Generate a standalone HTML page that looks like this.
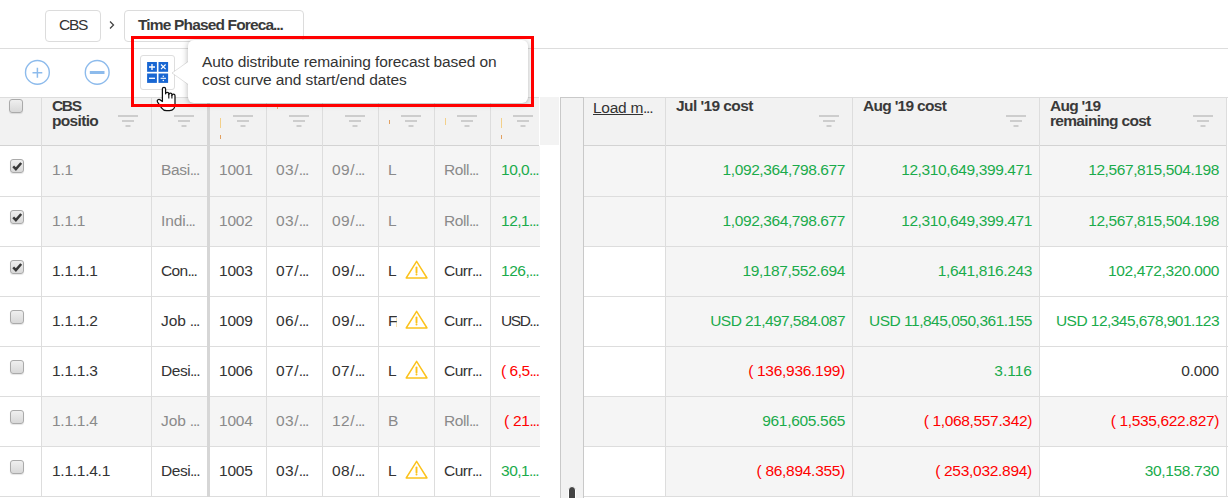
<!DOCTYPE html>
<html><head><meta charset="utf-8"><style>
html,body{margin:0;padding:0;}
body{width:1228px;height:498px;overflow:hidden;position:relative;background:#fff;font-family:"Liberation Sans", sans-serif;}
.t{position:absolute;white-space:pre;line-height:15px;}
</style></head><body>
<div style="position:absolute;left:45px;top:10px;width:54px;height:30px;border:1px solid #dcdcdc;border-radius:4px;"></div><div class="t" style="left:59px;top:17px;color:#333333;font-size:15.5px;font-weight:normal;letter-spacing:-1.286px;">CBS</div><svg style="position:absolute;left:107px;top:18px" width="10" height="14" viewBox="0 0 10 14"><path d="M3 3.5 L6.5 7 L3 10.5" fill="none" stroke="#444" stroke-width="1.3"/></svg><div style="position:absolute;left:124px;top:10px;width:178px;height:30px;border:1px solid #dcdcdc;border-radius:4px;"></div><div class="t" style="left:138px;top:17px;color:#3a3a3a;font-size:15.5px;font-weight:bold;letter-spacing:-0.839px;">Time Phased Foreca<span style="letter-spacing:-1.03px;margin-left:-0.34px">...</span></div><div style="position:absolute;left:0px;top:48px;width:1228px;height:1px;background:#dddddd;"></div><svg style="position:absolute;left:24px;top:59px" width="28" height="28" viewBox="0 0 28 28"><circle cx="13.4" cy="13.4" r="11.9" fill="none" stroke="#8dbbec" stroke-width="1.4"/><path d="M8.5 13.8 H18.3 M13.4 8.8 V18.7" stroke="#8dbbec" stroke-width="1.5"/></svg><svg style="position:absolute;left:84px;top:59px" width="28" height="28" viewBox="0 0 28 28"><circle cx="13.2" cy="13.4" r="11.9" fill="none" stroke="#8dbbec" stroke-width="1.4"/><path d="M5.8 13.5 H20.5" stroke="#8dbbec" stroke-width="3"/></svg><div style="position:absolute;left:0px;top:97px;width:539px;height:1px;background:#dddddd;"></div><div style="position:absolute;left:0px;top:98px;width:539px;height:47px;background:#f2f2f2;"></div><div style="position:absolute;left:0px;top:145px;width:539px;height:1px;background:#d3d3d3;"></div><div style="position:absolute;left:42px;top:146px;width:498px;height:50px;background:#f5f5f5;"></div><div style="position:absolute;left:0px;top:196px;width:540px;height:1px;background:#dddddd;"></div><div style="position:absolute;left:42px;top:197px;width:498px;height:49px;background:#f5f5f5;"></div><div style="position:absolute;left:0px;top:246px;width:540px;height:1px;background:#dddddd;"></div><div style="position:absolute;left:0px;top:296px;width:540px;height:1px;background:#dddddd;"></div><div style="position:absolute;left:0px;top:346px;width:540px;height:1px;background:#dddddd;"></div><div style="position:absolute;left:0px;top:396px;width:540px;height:1px;background:#dddddd;"></div><div style="position:absolute;left:42px;top:397px;width:498px;height:49px;background:#f5f5f5;"></div><div style="position:absolute;left:0px;top:446px;width:540px;height:1px;background:#dddddd;"></div><div style="position:absolute;left:0px;top:496px;width:540px;height:1px;background:#dddddd;"></div><div style="position:absolute;left:41px;top:97px;width:1px;height:400px;background:#dddddd;"></div><div style="position:absolute;left:151px;top:97px;width:1px;height:400px;background:#dddddd;"></div><div style="position:absolute;left:207px;top:97px;width:3px;height:400px;background:#d6d6d6;"></div><div style="position:absolute;left:266px;top:97px;width:1px;height:400px;background:#dddddd;"></div><div style="position:absolute;left:322px;top:97px;width:1px;height:400px;background:#dddddd;"></div><div style="position:absolute;left:378px;top:97px;width:1px;height:400px;background:#dddddd;"></div><div style="position:absolute;left:434px;top:97px;width:1px;height:400px;background:#dddddd;"></div><div style="position:absolute;left:490px;top:97px;width:1px;height:400px;background:#dddddd;"></div><div style="position:absolute;left:9px;top:99px;width:12px;height:12px;border:1px solid #aaaaaa;border-radius:3px;background:linear-gradient(#efefef,#d8d8d8);box-shadow:0 1px 1px rgba(0,0,0,0.10)"></div><div class="t" style="left:52px;top:98px;color:#3a3a3a;font-size:15.5px;font-weight:bold;letter-spacing:-1.370px;">CBS</div><div class="t" style="left:52px;top:113px;color:#3a3a3a;font-size:15.5px;font-weight:bold;letter-spacing:-0.674px;">positio</div><svg style="position:absolute;left:118px;top:115px" width="20" height="12" viewBox="0 0 20 12"><rect x="0" y="0" width="20" height="2" fill="#cdcdcd"/><rect x="4" y="5" width="12" height="2" fill="#cdcdcd"/><rect x="7.5" y="10" width="5" height="2" fill="#cdcdcd"/></svg><svg style="position:absolute;left:174px;top:115px" width="20" height="12" viewBox="0 0 20 12"><rect x="0" y="0" width="20" height="2" fill="#cdcdcd"/><rect x="4" y="5" width="12" height="2" fill="#cdcdcd"/><rect x="7.5" y="10" width="5" height="2" fill="#cdcdcd"/></svg><svg style="position:absolute;left:233px;top:115px" width="20" height="12" viewBox="0 0 20 12"><rect x="0" y="0" width="20" height="2" fill="#cdcdcd"/><rect x="4" y="5" width="12" height="2" fill="#cdcdcd"/><rect x="7.5" y="10" width="5" height="2" fill="#cdcdcd"/></svg><svg style="position:absolute;left:289px;top:115px" width="20" height="12" viewBox="0 0 20 12"><rect x="0" y="0" width="20" height="2" fill="#cdcdcd"/><rect x="4" y="5" width="12" height="2" fill="#cdcdcd"/><rect x="7.5" y="10" width="5" height="2" fill="#cdcdcd"/></svg><svg style="position:absolute;left:345px;top:115px" width="20" height="12" viewBox="0 0 20 12"><rect x="0" y="0" width="20" height="2" fill="#cdcdcd"/><rect x="4" y="5" width="12" height="2" fill="#cdcdcd"/><rect x="7.5" y="10" width="5" height="2" fill="#cdcdcd"/></svg><svg style="position:absolute;left:401px;top:115px" width="20" height="12" viewBox="0 0 20 12"><rect x="0" y="0" width="20" height="2" fill="#cdcdcd"/><rect x="4" y="5" width="12" height="2" fill="#cdcdcd"/><rect x="7.5" y="10" width="5" height="2" fill="#cdcdcd"/></svg><svg style="position:absolute;left:457px;top:115px" width="20" height="12" viewBox="0 0 20 12"><rect x="0" y="0" width="20" height="2" fill="#cdcdcd"/><rect x="4" y="5" width="12" height="2" fill="#cdcdcd"/><rect x="7.5" y="10" width="5" height="2" fill="#cdcdcd"/></svg><svg style="position:absolute;left:513px;top:115px" width="20" height="12" viewBox="0 0 20 12"><rect x="0" y="0" width="20" height="2" fill="#cdcdcd"/><rect x="4" y="5" width="12" height="2" fill="#cdcdcd"/><rect x="7.5" y="10" width="5" height="2" fill="#cdcdcd"/></svg><div style="position:absolute;left:220px;top:118px;width:1px;height:10px;background:#f3d08a;"></div><div style="position:absolute;left:220px;top:135px;width:1px;height:4px;background:#e2a060;"></div><div style="position:absolute;left:501px;top:118px;width:1px;height:10px;background:#f3d08a;"></div><div style="position:absolute;left:501px;top:135px;width:1px;height:4px;background:#e2a060;"></div><div style="position:absolute;left:445px;top:118px;width:1px;height:7px;background:#f3d08a;"></div><div style="position:absolute;left:389px;top:120px;width:1px;height:4px;background:#e2a060;"></div><div style="position:absolute;left:277px;top:107px;width:1px;height:2px;background:#e8b070;"></div><div style="position:absolute;left:396px;top:318px;width:1px;height:9px;background:#f8e0b0;"></div><div style="position:absolute;left:10px;top:159px;width:12px;height:12px;border:1px solid #aaaaaa;border-radius:3px;background:linear-gradient(#efefef,#d8d8d8);box-shadow:0 1px 1px rgba(0,0,0,0.10)"><svg style="position:absolute;left:0;top:0" width="12" height="12" viewBox="0 0 12 12"><path d="M2.2 6.4 L4.9 9.1 L10.2 3" fill="none" stroke="#383838" stroke-width="2.5" stroke-linejoin="miter"/></svg></div><div class="t" style="left:52px;top:162px;color:#8a8a8a;font-size:15.5px;font-weight:normal;letter-spacing:-0.245px;">1.1</div><div class="t" style="left:161px;top:162px;color:#8a8a8a;font-size:15.5px;font-weight:normal;letter-spacing:-0.312px;">Basi<span style="letter-spacing:-1.19px;margin-left:-0.23px">...</span></div><div class="t" style="left:219px;top:162px;color:#8a8a8a;font-size:15.5px;font-weight:normal;letter-spacing:-0.188px;">1001</div><div class="t" style="left:276px;top:162px;color:#8a8a8a;font-size:15.5px;font-weight:normal;letter-spacing:0.500px;">03/<span style="letter-spacing:-1.19px;margin-left:-0.23px">...</span></div><div class="t" style="left:332px;top:162px;color:#8a8a8a;font-size:15.5px;font-weight:normal;letter-spacing:0.500px;">09/<span style="letter-spacing:-1.19px;margin-left:-0.23px">...</span></div><div class="t" style="left:388px;top:162px;color:#8a8a8a;font-size:15.5px;font-weight:normal;letter-spacing:-0.531px;">L</div><div class="t" style="left:444px;top:162px;color:#8a8a8a;font-size:15.5px;font-weight:normal;letter-spacing:-0.402px;">Roll<span style="letter-spacing:-1.19px;margin-left:-0.23px">...</span></div><div class="t" style="left:501px;top:162px;color:#1aab4b;font-size:15.5px;font-weight:normal;letter-spacing:-0.480px;">10,0<span style="letter-spacing:-1.19px;margin-left:-0.23px">...</span></div><div style="position:absolute;left:10px;top:210px;width:12px;height:12px;border:1px solid #aaaaaa;border-radius:3px;background:linear-gradient(#efefef,#d8d8d8);box-shadow:0 1px 1px rgba(0,0,0,0.10)"><svg style="position:absolute;left:0;top:0" width="12" height="12" viewBox="0 0 12 12"><path d="M2.2 6.4 L4.9 9.1 L10.2 3" fill="none" stroke="#383838" stroke-width="2.5" stroke-linejoin="miter"/></svg></div><div class="t" style="left:52px;top:213px;color:#8a8a8a;font-size:15.5px;font-weight:normal;letter-spacing:-0.256px;">1.1.1</div><div class="t" style="left:161px;top:213px;color:#8a8a8a;font-size:15.5px;font-weight:normal;letter-spacing:-0.129px;">Indi<span style="letter-spacing:-1.19px;margin-left:-0.23px">...</span></div><div class="t" style="left:219px;top:213px;color:#8a8a8a;font-size:15.5px;font-weight:normal;letter-spacing:-0.188px;">1002</div><div class="t" style="left:276px;top:213px;color:#8a8a8a;font-size:15.5px;font-weight:normal;letter-spacing:0.500px;">03/<span style="letter-spacing:-1.19px;margin-left:-0.23px">...</span></div><div class="t" style="left:332px;top:213px;color:#8a8a8a;font-size:15.5px;font-weight:normal;letter-spacing:0.500px;">09/<span style="letter-spacing:-1.19px;margin-left:-0.23px">...</span></div><div class="t" style="left:388px;top:213px;color:#8a8a8a;font-size:15.5px;font-weight:normal;letter-spacing:-0.531px;">L</div><div class="t" style="left:444px;top:213px;color:#8a8a8a;font-size:15.5px;font-weight:normal;letter-spacing:-0.402px;">Roll<span style="letter-spacing:-1.19px;margin-left:-0.23px">...</span></div><div class="t" style="left:501px;top:213px;color:#1aab4b;font-size:15.5px;font-weight:normal;letter-spacing:-0.480px;">12,1<span style="letter-spacing:-1.19px;margin-left:-0.23px">...</span></div><div style="position:absolute;left:10px;top:260px;width:12px;height:12px;border:1px solid #aaaaaa;border-radius:3px;background:linear-gradient(#efefef,#d8d8d8);box-shadow:0 1px 1px rgba(0,0,0,0.10)"><svg style="position:absolute;left:0;top:0" width="12" height="12" viewBox="0 0 12 12"><path d="M2.2 6.4 L4.9 9.1 L10.2 3" fill="none" stroke="#383838" stroke-width="2.5" stroke-linejoin="miter"/></svg></div><div class="t" style="left:52px;top:263px;color:#333333;font-size:15.5px;font-weight:normal;letter-spacing:-0.259px;">1.1.1.1</div><div class="t" style="left:161px;top:263px;color:#333333;font-size:15.5px;font-weight:normal;letter-spacing:-0.609px;">Con<span style="letter-spacing:-1.19px;margin-left:-0.23px">...</span></div><div class="t" style="left:219px;top:263px;color:#333333;font-size:15.5px;font-weight:normal;letter-spacing:-0.188px;">1003</div><div class="t" style="left:276px;top:263px;color:#333333;font-size:15.5px;font-weight:normal;letter-spacing:0.500px;">07/<span style="letter-spacing:-1.19px;margin-left:-0.23px">...</span></div><div class="t" style="left:332px;top:263px;color:#333333;font-size:15.5px;font-weight:normal;letter-spacing:0.500px;">09/<span style="letter-spacing:-1.19px;margin-left:-0.23px">...</span></div><div class="t" style="left:388px;top:263px;color:#333333;font-size:15.5px;font-weight:normal;letter-spacing:-0.531px;">L</div><div style="position:absolute;left:397px;top:259px;width:8px;height:22px;background:#ffffff;"></div><svg style="position:absolute;left:405px;top:260px" width="23" height="20" viewBox="0 0 23 20"><path d="M11.6 1.3 L22 18 H1.2 Z" fill="none" stroke="#fcc21b" stroke-width="1.45" stroke-linejoin="round"/><path d="M11.5 7.4 V12.6" stroke="#fcc21b" stroke-width="1.9" stroke-linecap="round"/><circle cx="11.5" cy="14.6" r="1" fill="#fcc21b"/></svg><div class="t" style="left:444px;top:263px;color:#333333;font-size:15.5px;font-weight:normal;letter-spacing:-0.484px;">Curr<span style="letter-spacing:-1.19px;margin-left:-0.23px">...</span></div><div class="t" style="left:501px;top:263px;color:#1aab4b;font-size:15.5px;font-weight:normal;letter-spacing:-0.480px;">126,<span style="letter-spacing:-1.19px;margin-left:-0.23px">...</span></div><div style="position:absolute;left:10px;top:310px;width:12px;height:12px;border:1px solid #aaaaaa;border-radius:3px;background:linear-gradient(#efefef,#d8d8d8);box-shadow:0 1px 1px rgba(0,0,0,0.10)"></div><div class="t" style="left:52px;top:313px;color:#333333;font-size:15.5px;font-weight:normal;letter-spacing:-0.259px;">1.1.1.2</div><div class="t" style="left:161px;top:313px;color:#333333;font-size:15.5px;font-weight:normal;letter-spacing:-0.082px;">Job <span style="letter-spacing:-1.19px;margin-left:-0.23px">...</span></div><div class="t" style="left:219px;top:313px;color:#333333;font-size:15.5px;font-weight:normal;letter-spacing:-0.188px;">1009</div><div class="t" style="left:276px;top:313px;color:#333333;font-size:15.5px;font-weight:normal;letter-spacing:0.500px;">06/<span style="letter-spacing:-1.19px;margin-left:-0.23px">...</span></div><div class="t" style="left:332px;top:313px;color:#333333;font-size:15.5px;font-weight:normal;letter-spacing:0.500px;">09/<span style="letter-spacing:-1.19px;margin-left:-0.23px">...</span></div><div class="t" style="left:388px;top:313px;color:#333333;font-size:15.5px;font-weight:normal;letter-spacing:-1.172px;">F</div><div style="position:absolute;left:397px;top:309px;width:8px;height:22px;background:#ffffff;"></div><svg style="position:absolute;left:405px;top:310px" width="23" height="20" viewBox="0 0 23 20"><path d="M11.6 1.3 L22 18 H1.2 Z" fill="none" stroke="#fcc21b" stroke-width="1.45" stroke-linejoin="round"/><path d="M11.5 7.4 V12.6" stroke="#fcc21b" stroke-width="1.9" stroke-linecap="round"/><circle cx="11.5" cy="14.6" r="1" fill="#fcc21b"/></svg><div class="t" style="left:444px;top:313px;color:#333333;font-size:15.5px;font-weight:normal;letter-spacing:-0.484px;">Curr<span style="letter-spacing:-1.19px;margin-left:-0.23px">...</span></div><div class="t" style="left:501px;top:313px;color:#333333;font-size:15.5px;font-weight:normal;letter-spacing:-1.417px;">USD<span style="letter-spacing:-1.19px;margin-left:-0.23px">...</span></div><div style="position:absolute;left:10px;top:360px;width:12px;height:12px;border:1px solid #aaaaaa;border-radius:3px;background:linear-gradient(#efefef,#d8d8d8);box-shadow:0 1px 1px rgba(0,0,0,0.10)"></div><div class="t" style="left:52px;top:363px;color:#333333;font-size:15.5px;font-weight:normal;letter-spacing:-0.259px;">1.1.1.3</div><div class="t" style="left:161px;top:363px;color:#333333;font-size:15.5px;font-weight:normal;letter-spacing:-0.457px;">Desi<span style="letter-spacing:-1.19px;margin-left:-0.23px">...</span></div><div class="t" style="left:219px;top:363px;color:#333333;font-size:15.5px;font-weight:normal;letter-spacing:-0.188px;">1006</div><div class="t" style="left:276px;top:363px;color:#333333;font-size:15.5px;font-weight:normal;letter-spacing:0.500px;">07/<span style="letter-spacing:-1.19px;margin-left:-0.23px">...</span></div><div class="t" style="left:332px;top:363px;color:#333333;font-size:15.5px;font-weight:normal;letter-spacing:0.500px;">07/<span style="letter-spacing:-1.19px;margin-left:-0.23px">...</span></div><div class="t" style="left:388px;top:363px;color:#333333;font-size:15.5px;font-weight:normal;letter-spacing:-0.531px;">L</div><div style="position:absolute;left:397px;top:359px;width:8px;height:22px;background:#ffffff;"></div><svg style="position:absolute;left:405px;top:360px" width="23" height="20" viewBox="0 0 23 20"><path d="M11.6 1.3 L22 18 H1.2 Z" fill="none" stroke="#fcc21b" stroke-width="1.45" stroke-linejoin="round"/><path d="M11.5 7.4 V12.6" stroke="#fcc21b" stroke-width="1.9" stroke-linecap="round"/><circle cx="11.5" cy="14.6" r="1" fill="#fcc21b"/></svg><div class="t" style="left:444px;top:363px;color:#333333;font-size:15.5px;font-weight:normal;letter-spacing:-0.484px;">Curr<span style="letter-spacing:-1.19px;margin-left:-0.23px">...</span></div><div class="t" style="left:501px;top:363px;color:#ff0000;font-size:15.5px;font-weight:normal;letter-spacing:-0.469px;">( 6,5<span style="letter-spacing:-1.19px;margin-left:-0.23px">...</span></div><div style="position:absolute;left:10px;top:410px;width:12px;height:12px;border:1px solid #aaaaaa;border-radius:3px;background:linear-gradient(#efefef,#d8d8d8);box-shadow:0 1px 1px rgba(0,0,0,0.10)"></div><div class="t" style="left:52px;top:413px;color:#8a8a8a;font-size:15.5px;font-weight:normal;letter-spacing:-0.259px;">1.1.1.4</div><div class="t" style="left:161px;top:413px;color:#8a8a8a;font-size:15.5px;font-weight:normal;letter-spacing:-0.082px;">Job <span style="letter-spacing:-1.19px;margin-left:-0.23px">...</span></div><div class="t" style="left:219px;top:413px;color:#8a8a8a;font-size:15.5px;font-weight:normal;letter-spacing:-0.188px;">1004</div><div class="t" style="left:276px;top:413px;color:#8a8a8a;font-size:15.5px;font-weight:normal;letter-spacing:0.500px;">03/<span style="letter-spacing:-1.19px;margin-left:-0.23px">...</span></div><div class="t" style="left:332px;top:413px;color:#8a8a8a;font-size:15.5px;font-weight:normal;letter-spacing:0.500px;">12/<span style="letter-spacing:-1.19px;margin-left:-0.23px">...</span></div><div class="t" style="left:388px;top:413px;color:#8a8a8a;font-size:15.5px;font-weight:normal;letter-spacing:-0.984px;">B</div><div class="t" style="left:444px;top:413px;color:#8a8a8a;font-size:15.5px;font-weight:normal;letter-spacing:-0.402px;">Roll<span style="letter-spacing:-1.19px;margin-left:-0.23px">...</span></div><div class="t" style="left:504px;top:413px;color:#ff0000;font-size:15.5px;font-weight:normal;letter-spacing:-0.250px;">( 21<span style="letter-spacing:-1.19px;margin-left:-0.23px">...</span></div><div style="position:absolute;left:10px;top:460px;width:12px;height:12px;border:1px solid #aaaaaa;border-radius:3px;background:linear-gradient(#efefef,#d8d8d8);box-shadow:0 1px 1px rgba(0,0,0,0.10)"></div><div class="t" style="left:52px;top:463px;color:#333333;font-size:15.5px;font-weight:normal;letter-spacing:-0.260px;">1.1.1.4.1</div><div class="t" style="left:161px;top:463px;color:#333333;font-size:15.5px;font-weight:normal;letter-spacing:-0.457px;">Desi<span style="letter-spacing:-1.19px;margin-left:-0.23px">...</span></div><div class="t" style="left:219px;top:463px;color:#333333;font-size:15.5px;font-weight:normal;letter-spacing:-0.188px;">1005</div><div class="t" style="left:276px;top:463px;color:#333333;font-size:15.5px;font-weight:normal;letter-spacing:0.500px;">03/<span style="letter-spacing:-1.19px;margin-left:-0.23px">...</span></div><div class="t" style="left:332px;top:463px;color:#333333;font-size:15.5px;font-weight:normal;letter-spacing:0.500px;">08/<span style="letter-spacing:-1.19px;margin-left:-0.23px">...</span></div><div class="t" style="left:388px;top:463px;color:#333333;font-size:15.5px;font-weight:normal;letter-spacing:-0.531px;">L</div><div style="position:absolute;left:397px;top:459px;width:8px;height:22px;background:#ffffff;"></div><svg style="position:absolute;left:405px;top:460px" width="23" height="20" viewBox="0 0 23 20"><path d="M11.6 1.3 L22 18 H1.2 Z" fill="none" stroke="#fcc21b" stroke-width="1.45" stroke-linejoin="round"/><path d="M11.5 7.4 V12.6" stroke="#fcc21b" stroke-width="1.9" stroke-linecap="round"/><circle cx="11.5" cy="14.6" r="1" fill="#fcc21b"/></svg><div class="t" style="left:444px;top:463px;color:#333333;font-size:15.5px;font-weight:normal;letter-spacing:-0.484px;">Curr<span style="letter-spacing:-1.19px;margin-left:-0.23px">...</span></div><div class="t" style="left:501px;top:463px;color:#1aab4b;font-size:15.5px;font-weight:normal;letter-spacing:-0.480px;">30,1<span style="letter-spacing:-1.19px;margin-left:-0.23px">...</span></div><div style="position:absolute;left:540px;top:97px;width:20px;height:401px;background:#ffffff;"></div><div style="position:absolute;left:539px;top:97px;width:1px;height:49px;background:#ffffff;"></div><div style="position:absolute;left:540px;top:97px;width:19px;height:48px;background:#f3f3f3;"></div><div style="position:absolute;left:560px;top:97px;width:1px;height:401px;background:#c9c9c9;"></div><div style="position:absolute;left:561px;top:97px;width:22px;height:401px;background:#f2f2f2;"></div><div style="position:absolute;left:583px;top:97px;width:1px;height:401px;background:#c9c9c9;"></div><div style="position:absolute;left:560px;top:97px;width:24px;height:1px;background:#c9c9c9;"></div><div style="position:absolute;left:568px;top:486px;width:8px;height:20px;border-radius:4px;background:#444;border:1px solid #fff;box-sizing:border-box"></div><div style="position:absolute;left:584px;top:97px;width:644px;height:1px;background:#dddddd;"></div><div style="position:absolute;left:584px;top:98px;width:643px;height:47px;background:#f2f2f2;"></div><div style="position:absolute;left:584px;top:145px;width:643px;height:1px;background:#d3d3d3;"></div><div style="position:absolute;left:584px;top:146px;width:642px;height:50px;background:#f5f5f5;"></div><div style="position:absolute;left:584px;top:196px;width:644px;height:1px;background:#dddddd;"></div><div style="position:absolute;left:584px;top:197px;width:642px;height:49px;background:#f5f5f5;"></div><div style="position:absolute;left:584px;top:246px;width:644px;height:1px;background:#dddddd;"></div><div style="position:absolute;left:666px;top:247px;width:373px;height:49px;background:#f5f5f5;"></div><div style="position:absolute;left:584px;top:296px;width:644px;height:1px;background:#dddddd;"></div><div style="position:absolute;left:666px;top:297px;width:373px;height:49px;background:#f5f5f5;"></div><div style="position:absolute;left:584px;top:346px;width:644px;height:1px;background:#dddddd;"></div><div style="position:absolute;left:666px;top:347px;width:373px;height:49px;background:#f5f5f5;"></div><div style="position:absolute;left:584px;top:396px;width:644px;height:1px;background:#dddddd;"></div><div style="position:absolute;left:584px;top:397px;width:642px;height:49px;background:#f5f5f5;"></div><div style="position:absolute;left:584px;top:446px;width:644px;height:1px;background:#dddddd;"></div><div style="position:absolute;left:666px;top:447px;width:373px;height:49px;background:#f5f5f5;"></div><div style="position:absolute;left:584px;top:496px;width:644px;height:1px;background:#dddddd;"></div><div style="position:absolute;left:665px;top:97px;width:1px;height:400px;background:#dddddd;"></div><div style="position:absolute;left:852px;top:97px;width:1px;height:400px;background:#dddddd;"></div><div style="position:absolute;left:1039px;top:97px;width:1px;height:400px;background:#dddddd;"></div><div style="position:absolute;left:1226px;top:97px;width:1px;height:400px;background:#dddddd;"></div><div class="t" style="left:593px;top:100px;color:#333333;font-size:15.5px;font-weight:normal;letter-spacing:-0.260px;"><span style="text-decoration:underline">Load m</span><span style="letter-spacing:-1.19px;margin-left:-0.23px">...</span></div><div class="t" style="left:676px;top:98px;color:#3a3a3a;font-size:15.5px;font-weight:bold;letter-spacing:-0.576px;">Jul '19 cost</div><div class="t" style="left:863px;top:98px;color:#3a3a3a;font-size:15.5px;font-weight:bold;letter-spacing:-0.702px;">Aug '19 cost</div><div class="t" style="left:1050px;top:98px;color:#3a3a3a;font-size:15.5px;font-weight:bold;letter-spacing:-0.721px;">Aug '19</div><div class="t" style="left:1050px;top:113px;color:#3a3a3a;font-size:15.5px;font-weight:bold;letter-spacing:-0.690px;">remaining cost</div><svg style="position:absolute;left:819px;top:115px" width="20" height="12" viewBox="0 0 20 12"><rect x="0" y="0" width="20" height="2" fill="#cdcdcd"/><rect x="4" y="5" width="12" height="2" fill="#cdcdcd"/><rect x="7.5" y="10" width="5" height="2" fill="#cdcdcd"/></svg><svg style="position:absolute;left:1006px;top:115px" width="20" height="12" viewBox="0 0 20 12"><rect x="0" y="0" width="20" height="2" fill="#cdcdcd"/><rect x="4" y="5" width="12" height="2" fill="#cdcdcd"/><rect x="7.5" y="10" width="5" height="2" fill="#cdcdcd"/></svg><svg style="position:absolute;left:1193px;top:115px" width="20" height="12" viewBox="0 0 20 12"><rect x="0" y="0" width="20" height="2" fill="#cdcdcd"/><rect x="4" y="5" width="12" height="2" fill="#cdcdcd"/><rect x="7.5" y="10" width="5" height="2" fill="#cdcdcd"/></svg><div class="t" style="right:383px;text-align:right;top:162px;color:#1aab4b;font-size:15.5px;font-weight:normal;letter-spacing:-0.405px;">1,092,364,798.677</div><div class="t" style="right:196px;text-align:right;top:162px;color:#1aab4b;font-size:15.5px;font-weight:normal;letter-spacing:-0.393px;">12,310,649,399.471</div><div class="t" style="right:9px;text-align:right;top:162px;color:#1aab4b;font-size:15.5px;font-weight:normal;letter-spacing:-0.393px;">12,567,815,504.198</div><div class="t" style="right:383px;text-align:right;top:213px;color:#1aab4b;font-size:15.5px;font-weight:normal;letter-spacing:-0.405px;">1,092,364,798.677</div><div class="t" style="right:196px;text-align:right;top:213px;color:#1aab4b;font-size:15.5px;font-weight:normal;letter-spacing:-0.393px;">12,310,649,399.471</div><div class="t" style="right:9px;text-align:right;top:213px;color:#1aab4b;font-size:15.5px;font-weight:normal;letter-spacing:-0.393px;">12,567,815,504.198</div><div class="t" style="right:383px;text-align:right;top:263px;color:#1aab4b;font-size:15.5px;font-weight:normal;letter-spacing:-0.368px;">19,187,552.694</div><div class="t" style="right:196px;text-align:right;top:263px;color:#1aab4b;font-size:15.5px;font-weight:normal;letter-spacing:-0.381px;">1,641,816.243</div><div class="t" style="right:9px;text-align:right;top:263px;color:#1aab4b;font-size:15.5px;font-weight:normal;letter-spacing:-0.356px;">102,472,320.000</div><div class="t" style="right:383px;text-align:right;top:313px;color:#1aab4b;font-size:15.5px;font-weight:normal;letter-spacing:-0.555px;">USD 21,497,584.087</div><div class="t" style="right:196px;text-align:right;top:313px;color:#1aab4b;font-size:15.5px;font-weight:normal;letter-spacing:-0.489px;">USD 11,845,050,361.155</div><div class="t" style="right:9px;text-align:right;top:313px;color:#1aab4b;font-size:15.5px;font-weight:normal;letter-spacing:-0.542px;">USD 12,345,678,901.123</div><div class="t" style="right:383px;text-align:right;top:363px;color:#ff0000;font-size:15.5px;font-weight:normal;letter-spacing:-0.283px;">( 136,936.199)</div><div class="t" style="right:196px;text-align:right;top:363px;color:#1aab4b;font-size:15.5px;font-weight:normal;letter-spacing:0.009px;">3.116</div><div class="t" style="right:9px;text-align:right;top:363px;color:#333333;font-size:15.5px;font-weight:normal;letter-spacing:-0.222px;">0.000</div><div class="t" style="right:383px;text-align:right;top:413px;color:#1aab4b;font-size:15.5px;font-weight:normal;letter-spacing:-0.311px;">961,605.565</div><div class="t" style="right:196px;text-align:right;top:413px;color:#ff0000;font-size:15.5px;font-weight:normal;letter-spacing:-0.345px;">( 1,068,557.342)</div><div class="t" style="right:9px;text-align:right;top:413px;color:#ff0000;font-size:15.5px;font-weight:normal;letter-spacing:-0.345px;">( 1,535,622.827)</div><div class="t" style="right:383px;text-align:right;top:463px;color:#ff0000;font-size:15.5px;font-weight:normal;letter-spacing:-0.291px;">( 86,894.355)</div><div class="t" style="right:196px;text-align:right;top:463px;color:#ff0000;font-size:15.5px;font-weight:normal;letter-spacing:-0.283px;">( 253,032.894)</div><div class="t" style="right:9px;text-align:right;top:463px;color:#1aab4b;font-size:15.5px;font-weight:normal;letter-spacing:-0.322px;">30,158.730</div><div style="position:absolute;left:140px;top:55px;width:33px;height:33px;border:1px solid #dedede;border-radius:3px;background:#fff"></div><svg style="position:absolute;left:147px;top:62px" width="22" height="22" viewBox="0 0 22 22"><rect x="0.1" y="0" width="9.8" height="9.8" fill="#1866d2"/><rect x="11.5" y="0" width="9.6" height="9.8" fill="#1866d2"/><rect x="0.1" y="11.5" width="9.8" height="9.4" fill="#1866d2"/><rect x="11.5" y="11.5" width="9.6" height="9.4" fill="#1866d2"/><path d="M2 5 H8 M5 2 V8" stroke="#fff" stroke-width="1.3"/><path d="M14 2.5 L18.6 7.1 M18.6 2.5 L14 7.1" stroke="#fff" stroke-width="1.2"/><path d="M2 16.3 H8" stroke="#fff" stroke-width="1.3"/><path d="M13.6 16.3 H19" stroke="#fff" stroke-width="1.1"/><circle cx="16.3" cy="14.2" r="0.75" fill="#fff"/><circle cx="16.3" cy="18.5" r="0.75" fill="#fff"/></svg><div style="position:absolute;left:188px;top:40px;width:340px;height:63px;background:#fff;border-radius:6px;box-shadow:0 1px 6px rgba(0,0,0,0.3)"></div><svg style="position:absolute;left:168px;top:56px" width="24" height="34" viewBox="0 0 24 34"><path d="M21 5 L4 17 L21 29 Z" fill="#fff" stroke="rgba(0,0,0,0.12)" stroke-width="1"/><rect x="20" y="2" width="4" height="30" fill="#fff"/></svg><div class="t" style="left:202px;top:54px;color:#333;font-size:15.5px;font-weight:normal;letter-spacing:-0.104px;">Auto distribute remaining forecast based on</div><div class="t" style="left:202px;top:72px;color:#333;font-size:15.5px;font-weight:normal;letter-spacing:-0.103px;">cost curve and start/end dates</div><svg style="position:absolute;left:150px;top:80px" width="35" height="35" viewBox="0 0 35 35"><path d="M12.4 21.5 V8.9 A1.6 1.6 0 0 1 15.6 8.9 V13.8 Q15.6 12.3 17.2 12.3 Q18.8 12.3 18.8 13.8 V14.6 Q18.8 13.2 20.35 13.2 Q21.9 13.2 21.9 14.6 V15.6 Q21.9 14.2 23.45 14.2 Q25 14.2 25 15.8 V24 Q25 30.6 19.5 30.6 H16.5 Q13.5 30.6 11.5 27.8 L7.6 22.2 Q6.6 20.6 7.9 19.7 Q9.3 18.9 10.6 20.2 Z" fill="#fff" stroke="#111" stroke-width="1.25" stroke-linejoin="round"/><path d="M18.8 14 V18.5 M21.9 15 V18.5" stroke="#111" stroke-width="1.1"/></svg><div style="position:absolute;left:131px;top:36px;width:397px;height:65px;border:3px solid #ff0000"></div>
</body></html>
